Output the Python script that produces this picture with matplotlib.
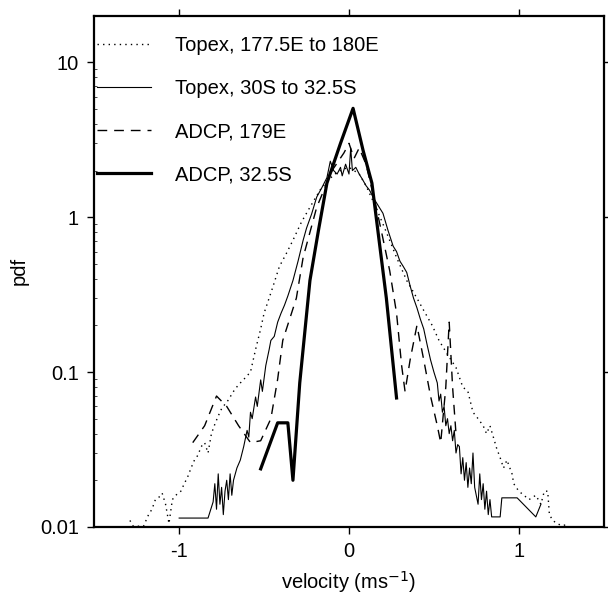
import numpy as np
import matplotlib
matplotlib.use('Agg')
import matplotlib.pyplot as plt
from matplotlib.ticker import FixedLocator, FixedFormatter, LogLocator, NullFormatter

plt.rcParams['font.family'] = ['Liberation Sans', 'DejaVu Sans']
plt.rcParams['axes.unicode_minus'] = False

# Topex, 177.5E to 180E (dotted)
topex_e_x = [-1.29, -1.27, -1.24, -1.21, -1.18, -1.16, -1.14, -1.12, -1.10, -1.08, -1.06, -1.04,
             -1.02, -0.99, -0.97, -0.95, -0.93, -0.91, -0.89, -0.87, -0.85, -0.83, -0.81, -0.79,
             -0.77, -0.75, -0.73, -0.71, -0.69, -0.67, -0.64, -0.61, -0.58, -0.55, -0.52, -0.50,
             -0.45, -0.41, -0.37, -0.33, -0.28, -0.23, -0.17, -0.12, -0.07, -0.03, 0.00, 0.03,
             0.06, 0.10, 0.16, 0.22, 0.28, 0.34, 0.40, 0.44, 0.49, 0.53, 0.58, 0.63, 0.67, 0.70,
             0.73, 0.76, 0.79, 0.81, 0.83, 0.85, 0.87, 0.89, 0.91, 0.93, 0.96, 0.97, 1.00, 1.03,
             1.06, 1.10, 1.13, 1.15, 1.17, 1.18, 1.20, 1.22, 1.25, 1.28]
topex_e_y = [0.011, 0.0101, 0.0101, 0.0101, 0.012, 0.013, 0.015, 0.0155, 0.0165, 0.014, 0.0105, 0.015,
             0.016, 0.017, 0.019, 0.021, 0.024, 0.027, 0.029, 0.033, 0.035, 0.030, 0.040, 0.046,
             0.052, 0.058, 0.062, 0.066, 0.072, 0.078, 0.085, 0.092, 0.10, 0.14, 0.19, 0.24,
             0.35, 0.48, 0.58, 0.71, 0.93, 1.16, 1.5, 1.75, 1.95, 2.05, 2.1, 2.0,
             1.9, 1.6, 1.15, 0.80, 0.55, 0.39, 0.30, 0.25, 0.20, 0.16, 0.13, 0.107, 0.08, 0.075,
             0.055, 0.050, 0.045, 0.040, 0.045, 0.038, 0.032, 0.028, 0.024, 0.027, 0.022, 0.019, 0.017, 0.016,
             0.015, 0.016, 0.014, 0.017, 0.017, 0.012, 0.011, 0.0106, 0.0102, 0.0103]

# Topex, 30S to 32.5S (thin solid)
topex_s_x = [-1.00, -0.83, -0.80, -0.79, -0.78, -0.77, -0.76, -0.75, -0.74, -0.73, -0.72, -0.71,
             -0.70, -0.69, -0.68, -0.66, -0.64, -0.62, -0.60, -0.59, -0.58, -0.57, -0.55, -0.54,
             -0.52, -0.51, -0.49, -0.47, -0.46, -0.44, -0.42, -0.40, -0.38, -0.36, -0.33, -0.30,
             -0.27, -0.25, -0.22, -0.19, -0.16, -0.13, -0.11, -0.09, -0.07, -0.05, -0.04, -0.02,
             0.00, 0.01, 0.02, 0.04, 0.06, 0.08, 0.10, 0.12, 0.15, 0.18, 0.20, 0.23, 0.26, 0.28,
             0.30, 0.32, 0.34, 0.36, 0.38, 0.40, 0.42, 0.44, 0.46, 0.48, 0.50, 0.52, 0.53, 0.54,
             0.55, 0.56, 0.57, 0.58, 0.59, 0.60, 0.61, 0.62, 0.63, 0.64, 0.65, 0.66, 0.67, 0.68,
             0.69, 0.70, 0.71, 0.72, 0.73, 0.74, 0.76, 0.77, 0.78, 0.79, 0.80, 0.81, 0.82, 0.83,
             0.84, 0.89, 0.90, 0.99, 1.10, 1.13]
topex_s_y = [0.0114, 0.0114, 0.0145, 0.019, 0.013, 0.022, 0.014, 0.018, 0.012, 0.017, 0.020, 0.015,
             0.022, 0.016, 0.020, 0.024, 0.027, 0.033, 0.042, 0.038, 0.055, 0.050, 0.069, 0.060,
             0.089, 0.075, 0.11, 0.14, 0.16, 0.17, 0.21, 0.24, 0.27, 0.31, 0.39, 0.52,
             0.71, 0.85, 1.05, 1.35, 1.55, 1.8, 2.3, 2.0, 1.9, 2.1, 1.85, 2.2,
             1.9, 2.8, 2.0, 2.1, 1.9, 1.75, 1.6, 1.5, 1.3, 1.15, 1.06, 0.82, 0.65, 0.60,
             0.52, 0.48, 0.44, 0.36, 0.30, 0.26, 0.22, 0.19, 0.15, 0.12, 0.10, 0.085, 0.065, 0.072,
             0.055, 0.060, 0.045, 0.050, 0.040, 0.045, 0.036, 0.042, 0.030, 0.034, 0.033, 0.022, 0.028, 0.020,
             0.026, 0.018, 0.024, 0.019, 0.030, 0.018, 0.014, 0.022, 0.015, 0.019, 0.013, 0.017, 0.012, 0.015,
             0.0116, 0.0116, 0.0154, 0.0154, 0.0116, 0.014]

# ADCP, 179E (dashed)
adcp_e_x = [-0.92, -0.85, -0.78, -0.72, -0.65, -0.58, -0.52, -0.46, -0.42, -0.39, -0.31, -0.27,
            -0.19, -0.10, -0.03, 0.00, 0.03, 0.06, 0.10, 0.15, 0.19, 0.24, 0.28, 0.31, 0.33,
            0.36, 0.40, 0.44, 0.48, 0.52, 0.54, 0.57, 0.59, 0.61, 0.63]
adcp_e_y = [0.035, 0.045, 0.07, 0.06, 0.045, 0.035, 0.036, 0.05, 0.09, 0.16, 0.30, 0.55,
            1.16, 2.0, 2.6, 3.0, 2.4, 2.8, 2.2, 1.3, 0.82, 0.45, 0.24, 0.11, 0.075,
            0.12, 0.2, 0.12, 0.07, 0.045, 0.035, 0.08, 0.21, 0.08, 0.04]

# ADCP, 32.5S (thick solid)
adcp_s_x = [-0.52, -0.42, -0.36, -0.33, -0.29, -0.23, -0.18, -0.13, -0.05, 0.024,
            0.083, 0.135, 0.17, 0.22, 0.28]
adcp_s_y = [0.0237, 0.047, 0.047, 0.020, 0.085, 0.39, 0.82, 1.66, 3.0, 5.05,
            2.7, 1.66, 0.82, 0.30, 0.068]

labels = ['Topex, 177.5E to 180E', 'Topex, 30S to 32.5S', 'ADCP, 179E', 'ADCP, 32.5S']
yticks = [0.01, 0.1, 1, 10]
ytick_labels = ['0.01', '0.1', '1', '10']
xticks = [-1, 0, 1]
xtick_labels = ['-1', '0', '1']

fig = plt.figure(figsize=(6.08, 6.07), dpi=100)
ax = fig.add_axes([0.155, 0.132, 0.838, 0.842])

ax.plot(topex_e_x, topex_e_y, color='black', lw=1.0, linestyle=(0, (1, 3)), label=labels[0])
ax.plot(topex_s_x, topex_s_y, color='black', lw=0.8, label=labels[1])
ax.plot(adcp_e_x, adcp_e_y, color='black', lw=1.0, linestyle=(0, (7, 5)), label=labels[2])
ax.plot(adcp_s_x, adcp_s_y, color='black', lw=2.3, label=labels[3])

ax.set_yscale('log')
ax.set_xlim(-1.5, 1.5)
ax.set_ylim(0.01, 20)
ax.yaxis.set_major_locator(FixedLocator(yticks))
ax.yaxis.set_major_formatter(FixedFormatter(ytick_labels))
ax.yaxis.set_minor_locator(LogLocator(base=10, subs=np.arange(2, 10)))
ax.yaxis.set_minor_formatter(NullFormatter())
ax.xaxis.set_major_locator(FixedLocator(xticks))
ax.xaxis.set_major_formatter(FixedFormatter(xtick_labels))

for s in ax.spines.values():
    s.set_linewidth(1.6)
ax.tick_params(which='major', direction='out', length=5, width=1, labelsize=14.5,
               top=True, right=True, pad=6)
ax.tick_params(axis='y', which='minor', direction='in', length=2, width=0.5, right=False)
ax.set_xlabel('velocity (ms$^{-1}$)', fontsize=14.5, labelpad=6)
ax.set_ylabel('pdf', fontsize=14.5, labelpad=8)

ax.legend(loc='upper left', bbox_to_anchor=(0.0, 0.967), frameon=False, fontsize=14.5,
          handlelength=2.65, handletextpad=1.2, labelspacing=1.2, borderaxespad=0.0,
          borderpad=0.15)

fig.savefig('out.png', dpi=100)
